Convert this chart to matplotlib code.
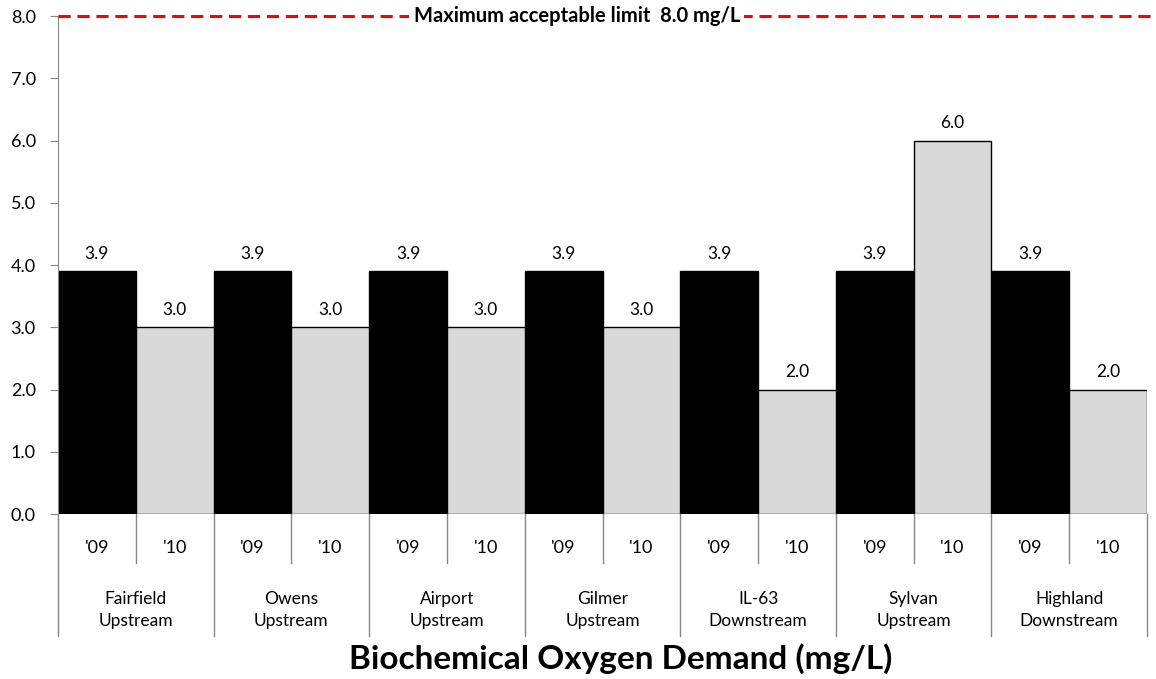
import matplotlib
matplotlib.use("Agg")
import matplotlib.pyplot as plt
from matplotlib.transforms import blended_transform_factory

plt.rcParams['font.family'] = ['Lato', 'DejaVu Sans']

sites = ["Fairfield\nUpstream", "Owens\nUpstream", "Airport\nUpstream", "Gilmer\nUpstream",
         "IL-63\nDownstream", "Sylvan\nUpstream", "Highland\nDownstream"]
years = ["'09", "'10"]
bod_09 = [3.9, 3.9, 3.9, 3.9, 3.9, 3.9, 3.9]
bod_10 = [3.0, 3.0, 3.0, 3.0, 2.0, 6.0, 2.0]
limit = 8.0
yticks = [0, 1, 2, 3, 4, 5, 6, 7, 8]

fig = plt.figure(figsize=(11.56, 6.79), dpi=100)
ax = fig.add_axes([0.0502, 0.2430, 0.9420, 0.7334])

n = len(sites)
x09 = [2 * i for i in range(n)]
x10 = [2 * i + 1 for i in range(n)]
ax.bar(x09, bod_09, width=1.0, color="black", edgecolor="black", linewidth=1, align="edge")
ax.bar(x10, bod_10, width=1.0, color="#d9d9d9", edgecolor="black", linewidth=1, align="edge")

for xs, vals in ((x09, bod_09), (x10, bod_10)):
    for x, v in zip(xs, vals):
        ax.annotate(f"{v:.1f}", (x + 0.5, v), xytext=(0, 7), textcoords="offset points",
                    ha="center", va="bottom", fontsize=12.5)

ax.set_xlim(0, 2 * n)
ax.set_ylim(0, 8)
ax.set_yticks(yticks)
ax.set_yticklabels([f"{t:.1f}" for t in yticks], fontsize=13)
ax.set_xticks([])
for s in ("top", "right", "bottom"):
    ax.spines[s].set_visible(False)
ax.spines["left"].set_color("#888888")
ax.tick_params(axis="y", direction="out", length=6, color="#888888", pad=10)

# limit line
ax.plot([0, 2 * n + 0.15], [limit, limit], color="red", linestyle=(0, (4, 2.2)), linewidth=2.2,
        clip_on=False, zorder=3)
ax.text(6.67, limit, "Maximum acceptable limit  8.0 mg/L", ha="center", va="center",
        fontsize=14.5, fontweight="bold", zorder=4,
        bbox=dict(facecolor="white", edgecolor="none", pad=3))

# category axis
tr = blended_transform_factory(ax.transData, ax.transAxes)
short = -0.098
long = -0.245
for i in range(2 * n + 1):
    y1 = long if i % 2 == 0 else short
    ax.plot([i, i], [0, y1], color="#888888", linewidth=1, transform=tr, clip_on=False)
for i in range(n):
    ax.text(2 * i + 0.5, -0.068, years[0], transform=tr, ha="center", va="center", fontsize=13)
    ax.text(2 * i + 1.5, -0.068, years[1], transform=tr, ha="center", va="center", fontsize=13)
    ax.text(2 * i + 1, -0.192, sites[i], transform=tr, ha="center", va="center", fontsize=12.5,
            linespacing=1.45)

fig.text(0.537, 0.008, "Biochemical Oxygen Demand (mg/L)", ha="center",
         va="bottom", fontsize=24, fontweight="bold")

fig.savefig("out.png", dpi=100)
